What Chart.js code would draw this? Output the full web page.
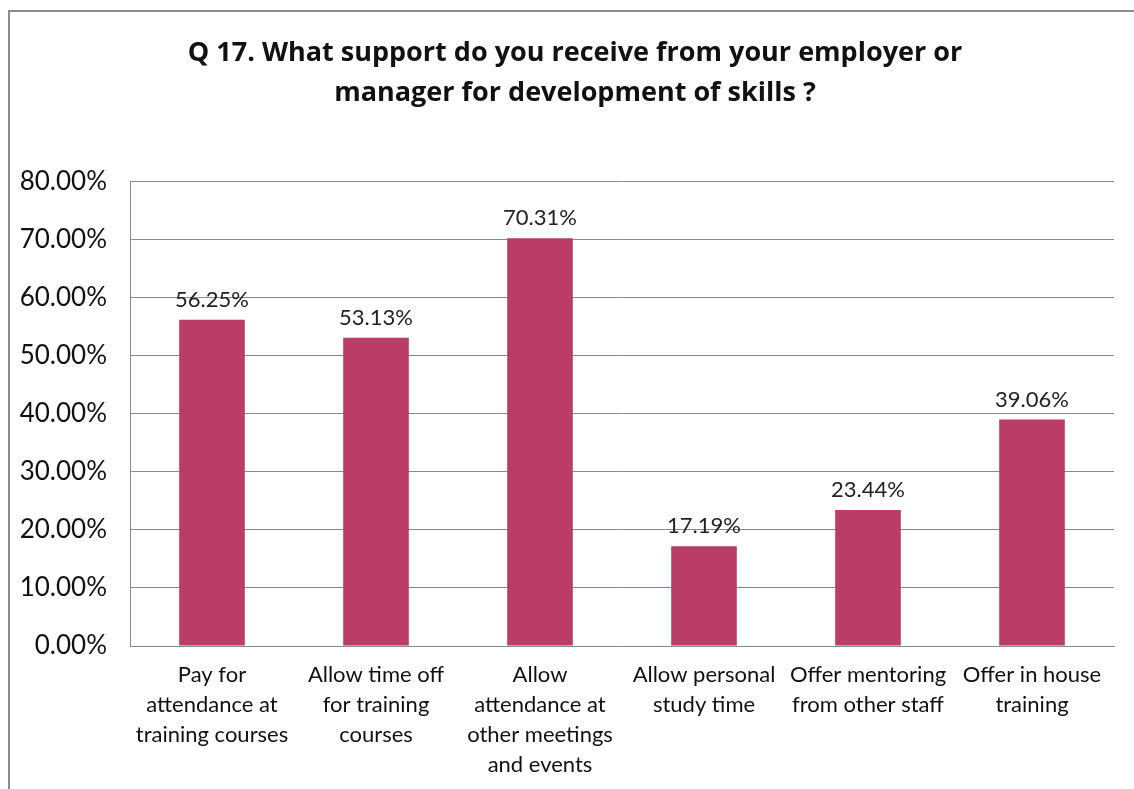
<!DOCTYPE html>
<html>
<head>
<meta charset="utf-8">
<script src="https://cdn.jsdelivr.net/npm/chart.js@4/dist/chart.umd.min.js"></script>
<style>
  html, body { margin: 0; padding: 0; background: #fff; }
  #wrap { position: relative; width: 1134px; height: 789px; overflow: hidden; }
  #frame {
    position: absolute; left: 8px; top: 10px; width: 1200px; height: 900px;
    border-left: 2px solid #8c8c8c; border-top: 2px solid #8c8c8c;
  }
  canvas { position: absolute; left: 0; top: 0; }
</style>
</head>
<body>
<div id="wrap">
  <div id="frame"></div>
  <canvas id="chart" width="1134" height="789"></canvas>
</div>
<script>
const FONT = 'Lato, "Open Sans", sans-serif';
const TITLE_FONT = '"Open Sans", Lato, sans-serif';

const titleLines = [
  'Q 17. What support do you receive from your employer or',
  'manager for development of skills ?'
];

const categories = [
  ['Pay for', 'attendance at', 'training courses'],
  ['Allow time off', 'for training', 'courses'],
  ['Allow', 'attendance at', 'other meetings', 'and events'],
  ['Allow personal', 'study time'],
  ['Offer mentoring', 'from other staff'],
  ['Offer in house', 'training']
];

// percent of respondents
const supportValues = [56.25, 53.13, 70.31, 17.19, 23.44, 39.06];

const yTicks = { min: 0, max: 80, step: 10 };

const fmtPct = v => Number(v).toFixed(2) + '%';

// value text above each bar
const barValueLabels = {
  id: 'barValueLabels',
  afterDatasetsDraw(chart) {
    const ctx = chart.ctx;
    const meta = chart.getDatasetMeta(0);
    ctx.save();
    ctx.font = '22px ' + FONT;
    ctx.fillStyle = '#222';
    ctx.textAlign = 'center';
    ctx.textBaseline = 'bottom';
    meta.data.forEach((bar, i) => {
      ctx.fillText(fmtPct(supportValues[i]), bar.x, bar.y - 9);
    });
    ctx.restore();
  }
};

chart = new Chart(document.getElementById('chart'), {
  type: 'bar',
  data: {
    labels: categories,
    datasets: [{
      data: supportValues,
      backgroundColor: '#b93d66',
      borderWidth: 0,
      categoryPercentage: 1,
      barPercentage: 0.4
    }]
  },
  options: {
    responsive: false,
    animation: false,
    layout: { padding: { left: 16, right: 0, top: 0, bottom: 0 } },
    plugins: {
      legend: { display: false },
      tooltip: { enabled: false },
      title: {
        display: true,
        text: titleLines,
        color: '#111',
        font: { family: TITLE_FONT, size: 27, weight: 'bold', lineHeight: 1.48 },
        padding: { top: 33, bottom: 69 }
      }
    },
    scales: {
      x: {
        grid: { display: false, drawTicks: false },
        border: { display: true, color: '#8a8a8a', width: 1 },
        ticks: {
          color: '#111',
          font: { family: FONT, size: 22, lineHeight: 1.36 },
          padding: 14,
          maxRotation: 0,
          autoSkip: false
        },
        afterFit(scale) { scale.height = 143; }
      },
      y: {
        min: yTicks.min,
        max: yTicks.max,
        grid: { color: '#8a8a8a', drawTicks: false },
        border: { display: true, color: '#8a8a8a', width: 1 },
        ticks: {
          stepSize: yTicks.step,
          color: '#111',
          font: { family: FONT, size: 26 },
          padding: 23,
          callback: v => fmtPct(v)
        },
        afterFit(scale) { scale.width = 114; }
      },
      // empty strip on the right so the plot stops short of the edge
      gutter: {
        type: 'linear',
        position: 'right',
        grid: { display: false },
        border: { display: false },
        ticks: { display: false },
        afterFit(scale) { scale.width = 20; }
      }
    }
  },
  plugins: [barValueLabels]
});
</script>
</body>
</html>
